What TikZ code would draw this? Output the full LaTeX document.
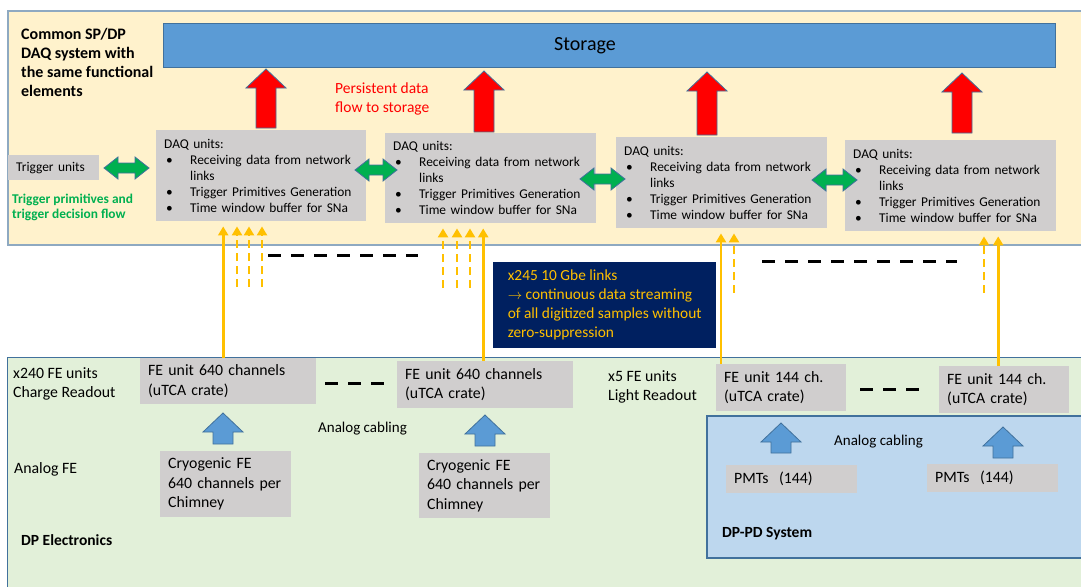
\documentclass[tikz,border=0pt]{standalone}
\usepackage{fontspec}
\setmainfont{Carlito}
\usetikzlibrary{arrows.meta}
\definecolor{daqyellow}{HTML}{FFF2CC}
\definecolor{daqedge}{HTML}{8EA9C1}
\definecolor{feblue}{HTML}{5B9BD5}
\definecolor{feedge}{HTML}{41719C}
\definecolor{boxgrey}{HTML}{D0CECE}
\definecolor{flowred}{HTML}{FF0000}
\definecolor{trigreen}{HTML}{00B050}
\definecolor{linkgold}{HTML}{FFC000}
\definecolor{notenavy}{HTML}{002060}
\definecolor{elecgreen}{HTML}{E2F0D9}
\definecolor{pdblue}{HTML}{BDD7EE}

\newcommand{\daqlist}{DAQ units:\\
  \hspace*{2pt}\makebox[24pt][l]{\textbullet}Receiving data from network\\
  \hspace*{26pt}links\\
  \hspace*{2pt}\makebox[24pt][l]{\textbullet}Trigger Primitives Generation\\
  \hspace*{2pt}\makebox[24pt][l]{\textbullet}Time window buffer for SNa}

% block arrow pointing up: style, x, tip y, bottom y
\newcommand{\blockup}[4]{%
  \draw[#1] (#2-10,#4) -- (#2-10,#3+19) -- (#2-20,#3+19) -- (#2,#3)
    -- (#2+20,#3+19) -- (#2+10,#3+19) -- (#2+10,#4) -- cycle;}
% block arrow both ways: left x, right x, y
\newcommand{\blockboth}[3]{%
  \draw[trigarrow] (#1,#3) -- (#1+14,#3-11) -- (#1+14,#3-5) -- (#2-14,#3-5)
    -- (#2-14,#3-11) -- (#2,#3) -- (#2-14,#3+11) -- (#2-14,#3+5)
    -- (#1+14,#3+5) -- (#1+14,#3+11) -- cycle;}

\begin{document}
\begin{tikzpicture}[x=1pt, y=-1pt,
    greybox/.style={fill=boxgrey, anchor=north west, inner xsep=8pt,
      inner ysep=0pt, align=left},
    daqfont/.style={font=\fontsize{13.4}{16}\selectfont},
    fefont/.style={font=\fontsize{15.8}{19.5}\selectfont},
    freetext/.style={anchor=north west, inner sep=0pt, align=left},
    flowarrow/.style={fill=flowred, draw=feedge, line width=0.8pt},
    trigarrow/.style={fill=trigreen, draw=feedge, line width=0.8pt},
    cablearrow/.style={fill=feblue, draw=feedge, line width=0.8pt},
    feed/.style={linkgold, line width=2.8pt,
      -{Triangle[width=10pt,length=9pt]}, shorten >=5pt},
    feeddash/.style={feed, dash pattern=on 8pt off 5pt},
    gapdash/.style={line width=3pt, dash pattern=on 13pt off 10pt}]
  \useasboundingbox (0,0) rectangle (1081,586);
  \clip (0,0) rectangle (1081,586);
  \fill[white] (0,0) rectangle (1081,586);

  % the three backgrounds
  \filldraw[fill=daqyellow, draw=daqedge, line width=1.3pt]
    (8,11) rectangle (1100,245);
  \filldraw[fill=elecgreen, draw=feedge, line width=1pt]
    (7,357) rectangle (1100,600);
  \filldraw[fill=pdblue, draw=feedge, line width=1.3pt]
    (707,416) rectangle (1100,558);

  % DAQ part
  \node[freetext, font=\fontsize{16}{19}\selectfont\bfseries] (title)
    at (21,28) {Common SP/DP\\DAQ system with\\the same functional\\elements};
  \node[fill=feblue, draw=feedge, line width=0.8pt, anchor=north west,
    minimum width=892pt, minimum height=44pt, inner sep=0pt] (storage)
    at (163,23) {};
  \node[font=\fontsize{20}{24}\selectfont, anchor=west, inner sep=0pt]
    (storagelabel) at (554,46) {Storage};
  \node[freetext, text=flowred, font=\fontsize{15.5}{19}\selectfont]
    (persist) at (335,83) {Persistent data\\flow to storage};

  \node[greybox, daqfont, minimum height=25pt, text width=75pt]
    (trigger) at (8,155) {Trigger units};
  \node[freetext, text=trigreen, font=\fontsize{13.4}{15}\selectfont\bfseries]
    (trigflow) at (12,194) {Trigger primitives and\\trigger decision flow};

  \node[greybox, daqfont, minimum height=91pt, text width=194pt]
    (daq1) at (156,130) {\daqlist};
  \node[greybox, daqfont, minimum height=90pt, text width=195pt]
    (daq2) at (385,133) {\daqlist};
  \node[greybox, daqfont, minimum height=91pt, text width=195pt]
    (daq3) at (616,137) {\daqlist};
  \node[greybox, daqfont, minimum height=91pt, text width=195pt]
    (daq4) at (845,140) {\daqlist};

  \blockup{flowarrow}{266}{69}{128}
  \blockup{flowarrow}{484}{71}{132}
  \blockup{flowarrow}{707}{72}{135}
  \blockup{flowarrow}{962}{73}{133}

  \blockboth{104}{149}{168}
  \blockboth{355}{397}{170}
  \blockboth{580}{625}{179}
  \blockboth{812}{857}{180}

  % links
  \node[fill=notenavy, anchor=north west, minimum width=223pt,
    minimum height=86pt, inner xsep=9pt, inner ysep=0pt,
    align=left, text=linkgold, font=\fontsize{15.4}{19}\selectfont]
    (linknote) at (493,262) {x245 10 Gbe links\\
    $\rightarrow$ continuous data streaming\\
    of all digitized samples without\\zero-suppression};

  \draw[gapdash] (268,255) -- (418,255);
  \draw[gapdash] (762,261) -- (957,261);

  % DP electronics
  \node[freetext, fefont] (chargelabel) at (13,367)
    {x240 FE units\\Charge Readout};
  \node[freetext, fefont] (analogfe) at (14,462) {Analog FE};
  \node[freetext, font=\fontsize{15.5}{19}\selectfont\bfseries] (dpelec)
    at (21,534) {DP Electronics};
  \node[freetext, fefont] (lightlabel) at (608,370)
    {x5 FE units\\Light Readout};
  \node[freetext, font=\fontsize{15.5}{19}\selectfont\bfseries] (dppd)
    at (722,527) {DP-PD System};
  \node[freetext, font=\fontsize{15}{18}\selectfont] (cabling1)
    at (318,422) {Analog cabling};
  \node[freetext, font=\fontsize{15}{18}\selectfont] (cabling2)
    at (834,435) {Analog cabling};

  \node[greybox, fefont, minimum height=46pt, text width=160pt]
    (fe1) at (140,358) {FE unit 640 channels\\(uTCA crate)};
  \node[greybox, fefont, minimum height=47pt, text width=160pt]
    (fe2) at (397,361) {FE unit 640 channels\\(uTCA crate)};
  \node[greybox, fefont, minimum height=47pt, text width=114pt]
    (fe3) at (716,364) {FE unit 144 ch.\\(uTCA crate)};
  \node[greybox, fefont, minimum height=47pt, text width=114pt]
    (fe4) at (939,366) {FE unit 144 ch.\\(uTCA crate)};

  \node[greybox, fefont, minimum height=66pt, text width=115pt]
    (cryo1) at (160,451) {Cryogenic FE\\640 channels per\\Chimney};
  \node[greybox, fefont, minimum height=65pt, text width=115pt]
    (cryo2) at (419,453) {Cryogenic FE\\640 channels per\\Chimney};
  \node[greybox, fefont, minimum height=28pt, text width=115pt]
    (pmt1) at (726,465) {PMTs~~(144)};
  \node[greybox, fefont, minimum height=28pt, text width=115pt]
    (pmt2) at (927,464) {PMTs~~(144)};

  \blockup{cablearrow}{223}{413}{444}
  \blockup{cablearrow}{485}{415}{446}
  \blockup{cablearrow}{781}{423}{453}
  \blockup{cablearrow}{1003}{427}{458}

  \draw[gapdash] (325,383) -- (384,383);
  \draw[gapdash] (860,389) -- (920,389);

  % FE -> DAQ links
  \draw[feed] ([xshift=-5pt]fe1.north) -- ([xshift=-5pt]fe1.north |- daq1.south);
  \draw[feed] ([xshift=-2pt]fe2.north) -- ([xshift=-2pt]fe2.north |- daq2.south);
  \draw[feed] ([xshift=5pt]fe3.north west) -- ([xshift=5pt]fe3.north west |- daq3.south);
  \draw[feed] ([xshift=-6pt]fe4.north) -- ([xshift=-6pt]fe4.north |- daq4.south);

  \foreach \x [count=\i] in {237,249,262} {
    \coordinate (tailA\i) at (\x,287);
    \draw[feeddash] (tailA\i) -- (tailA\i |- daq1.south);
  }
  \foreach \x [count=\i] in {443,457,470} {
    \coordinate (tailB\i) at (\x,288);
    \draw[feeddash] (tailB\i) -- (tailB\i |- daq2.south);
  }
  \coordinate (tailC) at (734,293);
  \draw[feeddash] (tailC) -- (tailC |- daq3.south);
  \coordinate (tailD) at (984,293);
  \draw[feeddash] (tailD) -- (tailD |- daq4.south);
\end{tikzpicture}
\end{document}
